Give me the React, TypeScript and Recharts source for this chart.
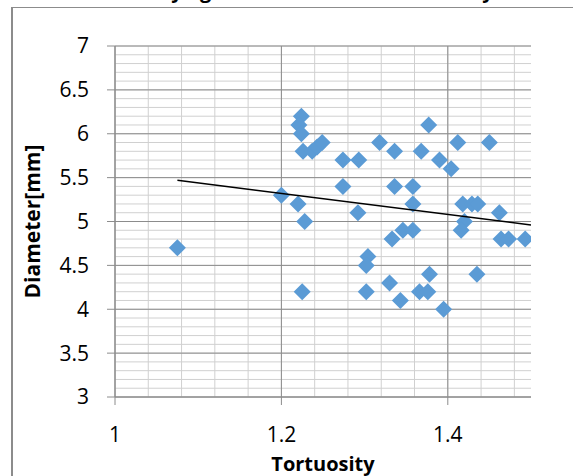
import { ScatterChart, Scatter, XAxis, YAxis, CartesianGrid, Label } from "recharts";

// values
const tortuosity = [
  1.075, 1.2, 1.22, 1.228, 1.225, 1.224, 1.221, 1.224, 1.226, 1.237,
  1.243, 1.249, 1.274, 1.293, 1.318, 1.336, 1.377, 1.368, 1.39, 1.404,
  1.412, 1.45, 1.274, 1.336, 1.358, 1.292, 1.358, 1.418, 1.429, 1.436,
  1.462, 1.42, 1.416, 1.346, 1.358, 1.333, 1.464, 1.473, 1.493, 1.304,
  1.302, 1.378, 1.435, 1.302, 1.33, 1.343, 1.366, 1.376, 1.395,
];
const diameter = [
  4.7, 5.3, 5.2, 5.0, 4.2, 6.2, 6.1, 6.0, 5.8, 5.8,
  5.85, 5.9, 5.7, 5.7, 5.9, 5.8, 6.1, 5.8, 5.7, 5.6,
  5.9, 5.9, 5.4, 5.4, 5.4, 5.1, 5.2, 5.2, 5.2, 5.2,
  5.1, 5.0, 4.9, 4.9, 4.9, 4.8, 4.8, 4.8, 4.8, 4.6,
  4.5, 4.4, 4.4, 4.2, 4.3, 4.1, 4.2, 4.2, 4.0,
];

// linear trendline ends
const trendX = [1.075, 1.5];
const trendY = [5.47, 4.96];

const xTicks = [1, 1.2, 1.4];
const yTicks = [3, 3.5, 4, 4.5, 5, 5.5, 6, 6.5, 7];
const xMinor = [1, 1.04, 1.08, 1.12, 1.16, 1.2, 1.24, 1.28, 1.32, 1.36, 1.4, 1.44, 1.48];
const yMinor = [
  3, 3.1, 3.2, 3.3, 3.4, 3.5, 3.6, 3.7, 3.8, 3.9, 4, 4.1, 4.2, 4.3, 4.4, 4.5, 4.6, 4.7, 4.8, 4.9,
  5, 5.1, 5.2, 5.3, 5.4, 5.5, 5.6, 5.7, 5.8, 5.9, 6, 6.1, 6.2, 6.3, 6.4, 6.5, 6.6, 6.7, 6.8, 6.9, 7,
];

const points = tortuosity.map((x, i) => ({ x, y: diameter[i] }));
const trend = trendX.map((x, i) => ({ x, y: trendY[i] }));

const FONT = "'Open Sans', 'Liberation Sans', sans-serif";

const Diamond = (props: any) => {
  const { cx, cy } = props;
  if (cx == null || cy == null) return null;
  const r = 8.5;
  return (
    <polygon
      points={`${cx},${cy - r} ${cx + r},${cy} ${cx},${cy + r} ${cx - r},${cy}`}
      fill="#5B9BD5"
    />
  );
};

// grid positions follow the axis domains [1, 1.5] and [3, 7]
const xPos = (offset: any, v: number) => offset.left + ((v - 1) / 0.5) * offset.width;
const yPos = (offset: any, v: number) => offset.top + ((7 - v) / 4) * offset.height;

export default function App() {
  return (
    <div style={{ position: "absolute", left: 0, top: 0, width: 573, height: 476, overflow: "hidden", background: "#fff" }}>
      <div
        style={{
          position: "absolute",
          left: 0,
          top: -23,
          width: 573,
          textAlign: "center",
          fontFamily: FONT,
          fontWeight: 700,
          fontSize: 20,
          whiteSpace: "nowrap",
        }}
      >
        Tortuosity against Diameter of the Artery
      </div>
      <div
        style={{
          position: "absolute",
          left: 11,
          top: 7,
          width: 600,
          height: 500,
          borderLeft: "2px solid #8c8c8c",
          borderTop: "1px solid #8c8c8c",
        }}
      />
      <div style={{ position: "absolute", left: 0, top: 0 }}>
        <ScatterChart width={573} height={476} margin={{ top: 46, right: 42, bottom: 0, left: 0 }}>
          <CartesianGrid
            stroke="#d0d0d0"
            strokeWidth={1}
            verticalCoordinatesGenerator={({ offset }: any) => xMinor.map((v) => xPos(offset, v))}
            horizontalCoordinatesGenerator={({ offset }: any) => yMinor.map((v) => yPos(offset, v))}
          />
          <CartesianGrid
            stroke="#8c8c8c"
            strokeWidth={1}
            verticalCoordinatesGenerator={({ offset }: any) => xTicks.map((v) => xPos(offset, v))}
            horizontalCoordinatesGenerator={({ offset }: any) => yTicks.map((v) => yPos(offset, v))}
          />
          <XAxis
            type="number"
            dataKey="x"
            domain={[1, 1.5]}
            ticks={xTicks}
            allowDataOverflow
            height={79}
            tickSize={8}
            tickMargin={22}
            stroke="#8c8c8c"
            tick={{ fill: "#000", fontSize: 21, fontFamily: FONT }}
          >
            <Label
              value="Tortuosity"
              position="insideBottom"
              offset={5}
              style={{ fill: "#000", fontSize: 20, fontWeight: 700, fontFamily: FONT }}
            />
          </XAxis>
          <YAxis
            type="number"
            dataKey="y"
            domain={[3, 7]}
            ticks={yTicks}
            allowDataOverflow
            width={115}
            tickSize={8}
            tickMargin={18}
            stroke="#8c8c8c"
            tick={{ fill: "#000", fontSize: 21, fontFamily: FONT }}
          >
            <Label
              value="Diameter[mm]"
              angle={-90}
              position="insideLeft"
              offset={33}
              style={{ textAnchor: "middle", fill: "#000", fontSize: 21, fontWeight: 700, fontFamily: FONT }}
            />
          </YAxis>
          <Scatter data={points} shape={<Diamond />} isAnimationActive={false} />
          <Scatter
            data={trend}
            line={{ stroke: "#000", strokeWidth: 1.5 }}
            shape={() => null}
            isAnimationActive={false}
          />
        </ScatterChart>
      </div>
    </div>
  );
}
